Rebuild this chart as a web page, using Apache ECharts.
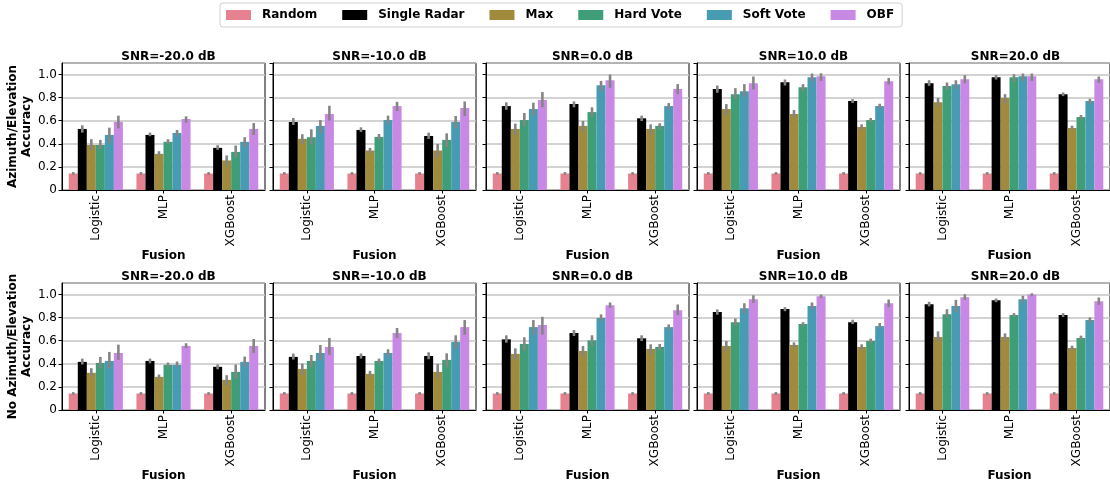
<!DOCTYPE html>
<html>
<head>
<meta charset="utf-8">
<script src="https://cdn.jsdelivr.net/npm/echarts@6/dist/echarts.min.js"></script>
<style>
  html, body { margin: 0; padding: 0; background: #fff; }
  #chart { width: 1110px; height: 489px; }
</style>
</head>
<body>
<div id="chart"></div>
<script>
// Fusion classifiers on the x axis, one bar per method in each group
const categories = ['Logistic', 'MLP', 'XGBoost'];
const methods = ['Random', 'Single Radar', 'Max', 'Hard Vote', 'Soft Vote', 'OBF'];
const methodColors = ['#e6818f', '#000000', '#a08b3c', '#3f9e77', '#479cb3', '#c988e3'];
const snrLabels = ['SNR=-20.0 dB', 'SNR=-10.0 dB', 'SNR=0.0 dB', 'SNR=10.0 dB', 'SNR=20.0 dB'];
const rowTitles = ['Azimuth/Elevation\nAccuracy', 'No Azimuth/Elevation\nAccuracy'];
const yTicks = [0, 0.2, 0.4, 0.6, 0.8, 1.0];

// Mean accuracy per method (rows) and classifier (columns): with azimuth/elevation
const azElSnrM20 = [[0.143, 0.143, 0.143], [0.529, 0.477, 0.365], [0.390, 0.313, 0.256], [0.390, 0.417, 0.330], [0.477, 0.494, 0.417], [0.590, 0.615, 0.529]];
const azElSnrM10 = [[0.143, 0.143, 0.143], [0.589, 0.520, 0.468], [0.443, 0.342, 0.342], [0.457, 0.460, 0.434], [0.555, 0.606, 0.589], [0.658, 0.727, 0.710]];
const azElSnr0   = [[0.143, 0.143, 0.143], [0.727, 0.744, 0.621], [0.529, 0.555, 0.529], [0.606, 0.675, 0.555], [0.701, 0.908, 0.727], [0.779, 0.951, 0.874]];
const azElSnr10  = [[0.143, 0.143, 0.143], [0.874, 0.934, 0.770], [0.701, 0.658, 0.546], [0.830, 0.891, 0.606], [0.856, 0.977, 0.727], [0.925, 0.986, 0.943]];
const azElSnr20  = [[0.143, 0.143, 0.143], [0.925, 0.977, 0.830], [0.761, 0.796, 0.537], [0.900, 0.977, 0.632], [0.917, 0.986, 0.770], [0.960, 0.986, 0.960]];

// Confidence intervals [low, high] for the same bars
const azElCiM20 = [[[0.131, 0.155], [0.131, 0.155], [0.131, 0.155]], [[0.497, 0.560], [0.466, 0.497], [0.348, 0.388]], [[0.348, 0.440], [0.296, 0.336], [0.210, 0.299]], [[0.353, 0.434], [0.397, 0.440], [0.284, 0.385]], [[0.405, 0.540], [0.463, 0.520], [0.374, 0.457]], [[0.535, 0.644], [0.583, 0.638], [0.477, 0.580]]];
const azElCiM10 = [[[0.131, 0.155], [0.131, 0.155], [0.131, 0.155]], [[0.563, 0.624], [0.503, 0.543], [0.442, 0.497]], [[0.400, 0.483], [0.319, 0.365], [0.284, 0.399]], [[0.394, 0.526], [0.434, 0.485], [0.371, 0.491]], [[0.491, 0.606], [0.572, 0.644], [0.534, 0.641]], [[0.601, 0.730], [0.684, 0.764], [0.641, 0.767]]];
const azElCi0   = [[[0.131, 0.155], [0.131, 0.155], [0.131, 0.155]], [[0.695, 0.759], [0.716, 0.767], [0.598, 0.644]], [[0.480, 0.575], [0.511, 0.598], [0.480, 0.569]], [[0.555, 0.667], [0.635, 0.716], [0.526, 0.578]], [[0.647, 0.756], [0.856, 0.945], [0.698, 0.753]], [[0.716, 0.848], [0.885, 1.000], [0.831, 0.917]]];
const azElCi10  = [[[0.131, 0.155], [0.131, 0.155], [0.131, 0.155]], [[0.842, 0.905], [0.905, 0.957], [0.753, 0.787]], [[0.649, 0.744], [0.629, 0.693], [0.523, 0.569]], [[0.793, 0.882], [0.856, 0.917], [0.586, 0.624]], [[0.807, 0.917], [0.940, 1.009], [0.704, 0.747]], [[0.871, 0.983], [0.945, 1.011], [0.914, 0.971]]];
const azElCi20  = [[[0.131, 0.155], [0.131, 0.155], [0.131, 0.155]], [[0.902, 0.951], [0.957, 0.997], [0.813, 0.845]], [[0.727, 0.799], [0.750, 0.830], [0.520, 0.557]], [[0.868, 0.931], [0.940, 1.003], [0.612, 0.649]], [[0.876, 0.951], [0.945, 1.009], [0.747, 0.790]], [[0.925, 0.994], [0.945, 1.009], [0.928, 0.983]]];

// Mean accuracy without azimuth/elevation
const noAzElSnrM20 = [[0.143, 0.143, 0.143], [0.417, 0.425, 0.374], [0.322, 0.287, 0.261], [0.408, 0.391, 0.330], [0.425, 0.391, 0.417], [0.494, 0.555, 0.555]];
const noAzElSnrM10 = [[0.143, 0.143, 0.143], [0.460, 0.468, 0.468], [0.356, 0.313, 0.330], [0.425, 0.425, 0.434], [0.494, 0.494, 0.589], [0.546, 0.667, 0.718]];
const noAzElSnr0   = [[0.143, 0.143, 0.143], [0.612, 0.667, 0.621], [0.486, 0.511, 0.529], [0.572, 0.603, 0.546], [0.718, 0.796, 0.718], [0.736, 0.908, 0.865]];
const noAzElSnr10  = [[0.143, 0.143, 0.143], [0.848, 0.874, 0.761], [0.555, 0.563, 0.546], [0.761, 0.744, 0.598], [0.882, 0.900, 0.727], [0.960, 0.986, 0.925]];
const noAzElSnr20  = [[0.143, 0.143, 0.143], [0.917, 0.951, 0.822], [0.632, 0.632, 0.537], [0.830, 0.822, 0.624], [0.900, 0.960, 0.779], [0.977, 1.000, 0.943]];

const noAzElCiM20 = [[[0.131, 0.155], [0.131, 0.155], [0.131, 0.155]], [[0.394, 0.445], [0.405, 0.445], [0.353, 0.394]], [[0.290, 0.362], [0.273, 0.307], [0.210, 0.302]], [[0.359, 0.460], [0.371, 0.411], [0.273, 0.394]], [[0.359, 0.503], [0.371, 0.420], [0.374, 0.463]], [[0.434, 0.566], [0.535, 0.578], [0.494, 0.615]]];
const noAzElCiM10 = [[[0.131, 0.155], [0.131, 0.155], [0.131, 0.155]], [[0.437, 0.489], [0.445, 0.489], [0.440, 0.500]], [[0.307, 0.402], [0.290, 0.339], [0.279, 0.399]], [[0.371, 0.477], [0.402, 0.445], [0.371, 0.491]], [[0.428, 0.563], [0.463, 0.526], [0.529, 0.647]], [[0.477, 0.624], [0.624, 0.710], [0.652, 0.779]]];
const noAzElCi0   = [[[0.131, 0.155], [0.131, 0.155], [0.131, 0.155]], [[0.583, 0.647], [0.641, 0.693], [0.598, 0.647]], [[0.437, 0.534], [0.463, 0.555], [0.483, 0.569]], [[0.514, 0.630], [0.555, 0.647], [0.517, 0.572]], [[0.652, 0.779], [0.770, 0.828], [0.693, 0.741]], [[0.652, 0.807], [0.885, 0.931], [0.822, 0.914]]];
const noAzElCi10  = [[[0.131, 0.155], [0.131, 0.155], [0.131, 0.155]], [[0.825, 0.871], [0.856, 0.891], [0.744, 0.782]], [[0.511, 0.598], [0.537, 0.586], [0.520, 0.569]], [[0.727, 0.793], [0.724, 0.761], [0.578, 0.618]], [[0.839, 0.925], [0.874, 0.931], [0.704, 0.753]], [[0.928, 0.994], [0.971, 1.000], [0.891, 0.957]]];
const noAzElCi20  = [[[0.131, 0.155], [0.131, 0.155], [0.131, 0.155]], [[0.897, 0.937], [0.934, 0.966], [0.805, 0.839]], [[0.595, 0.681], [0.598, 0.664], [0.517, 0.557]], [[0.799, 0.873], [0.805, 0.839], [0.604, 0.644]], [[0.851, 0.954], [0.931, 0.989], [0.756, 0.802]], [[0.954, 1.003], [0.986, 1.011], [0.911, 0.974]]];

const panelMeans = [
  [azElSnrM20, azElSnrM10, azElSnr0, azElSnr10, azElSnr20],
  [noAzElSnrM20, noAzElSnrM10, noAzElSnr0, noAzElSnr10, noAzElSnr20]
];
const panelCis = [
  [azElCiM20, azElCiM10, azElCi0, azElCi10, azElCi20],
  [noAzElCiM20, noAzElCiM10, noAzElCi0, noAzElCi10, noAzElCi20]
];

// Panel layout (pixels)
const panelLefts = [62, 273, 486, 697, 909];
const panelWidth = 203;
const rowTops = [63, 283];
const panelHeight = 127;
const FONT = 'DejaVu Sans';
const GROUP_FRACTION = 0.8;

const grids = [], xAxes = [], yAxes = [], series = [], titles = [];

for (let r = 0; r < 2; r++) {
  for (let c = 0; c < 5; c++) {
    const idx = r * 5 + c;
    grids.push({
      left: panelLefts[c], top: rowTops[r], width: panelWidth, height: panelHeight,
      show: true, borderColor: '#000', borderWidth: 1, containLabel: false
    });
    titles.push({
      text: snrLabels[c],
      left: panelLefts[c] + panelWidth / 2,
      top: rowTops[r] - 17,
      textAlign: 'center',
      textStyle: { fontFamily: FONT, fontSize: 12, fontWeight: 'bold', color: '#000' }
    });
    xAxes.push({
      type: 'category', gridIndex: idx, data: categories,
      axisLine: { show: true, lineStyle: { color: '#000', width: 1 } },
      axisTick: { show: true, alignWithLabel: true, length: 3.5, lineStyle: { color: '#000' } },
      axisLabel: { rotate: 90, margin: 5, fontFamily: FONT, fontSize: 12, color: '#000' },
      name: 'Fusion', nameLocation: 'middle', nameGap: 58,
      nameTextStyle: { fontFamily: FONT, fontSize: 12, fontWeight: 'bold', color: '#000' },
      splitLine: { show: false }
    });
    yAxes.push({
      type: 'value', gridIndex: idx, min: 0, max: 1.1, interval: 0.2,
      axisLine: { show: true, lineStyle: { color: '#000', width: 1 } },
      axisTick: { show: true, length: 3.5, lineStyle: { color: '#000' } },
      axisLabel: {
        show: c === 0, margin: 5, fontFamily: FONT, fontSize: 12, color: '#000',
        showMaxLabel: false,
        formatter: v => (yTicks.some(t => Math.abs(t - v) < 1e-6) ? (v === 0 ? '0' : v.toFixed(1)) : '')
      },
      splitLine: { show: true, lineStyle: { color: '#c4c4c4', width: 1.5 } },
      name: c === 0 ? rowTitles[r] : '',
      nameLocation: 'middle', nameGap: 23, nameRotate: 90,
      nameTextStyle: { fontFamily: FONT, fontSize: 12, fontWeight: 'bold', color: '#000', lineHeight: 14 }
    });

    const means = panelMeans[r][c];
    const cis = panelCis[r][c];
    methods.forEach((m, s) => {
      series.push({
        type: 'bar', name: m, xAxisIndex: idx, yAxisIndex: idx,
        data: means[s], barGap: '0%', barCategoryGap: ((1 - GROUP_FRACTION) * 100) + '%',
        itemStyle: { color: methodColors[s] }, silent: true, z: 2
      });
    });

    // Confidence interval whiskers drawn over the bars
    const ciData = [];
    cis.forEach((row, s) => row.forEach((pair, k) => ciData.push([k, s, pair[0], pair[1]])));
    series.push({
      type: 'custom', name: 'ci', xAxisIndex: idx, yAxisIndex: idx,
      data: ciData, encode: { x: 0, y: [2, 3] }, z: 5, silent: true,
      renderItem: (params, api) => {
        const k = api.value(0), s = api.value(1);
        const lo = api.coord([k, api.value(2)]);
        const hi = api.coord([k, api.value(3)]);
        const band = api.size([1, 0])[0];
        const barW = band * GROUP_FRACTION / methods.length;
        const x = lo[0] + (s - (methods.length - 1) / 2) * barW;
        return {
          type: 'line',
          shape: { x1: x, y1: lo[1], x2: x, y2: hi[1] },
          style: { stroke: '#858585', lineWidth: 2.6 }
        };
      }
    });
  }
}

const chart = echarts.init(document.getElementById('chart'), null, { renderer: 'canvas' });
chart.setOption({
  animation: false,
  backgroundColor: '#fff',
  title: titles,
  legend: {
    data: methods, left: 220, top: 3,
    padding: [6, 8, 6, 6], itemGap: 25, itemWidth: 25, itemHeight: 10,
    icon: 'rect', borderColor: '#d0d0d0', borderWidth: 1, borderRadius: 3,
    textStyle: { fontFamily: FONT, fontSize: 12, fontWeight: 'bold', color: '#000', padding: [0, 0, 0, 6] },
    selectedMode: false
  },
  grid: grids,
  xAxis: xAxes,
  yAxis: yAxes,
  series: series
});
</script>
</body>
</html>
